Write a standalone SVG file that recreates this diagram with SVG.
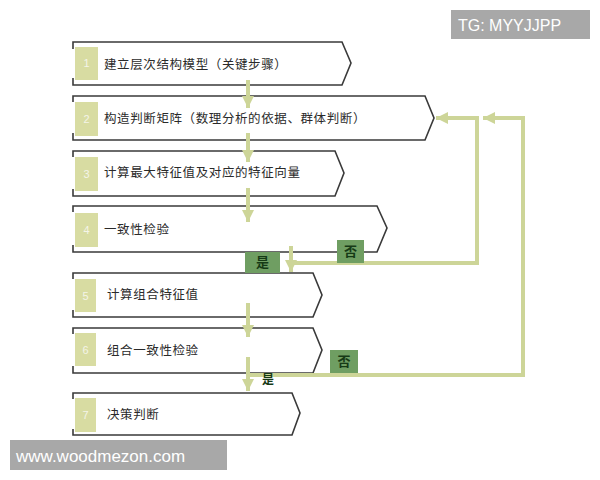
<svg xmlns="http://www.w3.org/2000/svg" width="600" height="480" viewBox="0 0 600 480">
<defs>
<marker id="ah" markerUnits="userSpaceOnUse" markerWidth="14" markerHeight="14" viewBox="0 0 14 14" refX="12" refY="7" orient="auto">
<path d="M0,1 L12,7 L0,13 Z" fill="#cdd598"/>
</marker>
<style>
.box{fill:#fff;stroke:#3a3a3a;stroke-width:1.6;stroke-linejoin:miter}
.num{fill:#d8dca2}
.nt{font-family:"Liberation Sans",sans-serif;font-size:11px;fill:#f4f4e8;text-anchor:middle}
.t{font-family:"Noto Sans CJK SC","Noto Sans",sans-serif;font-size:12.5px;fill:#2a2a2a;letter-spacing:0.6px}
.ln{fill:none;stroke:#cdd598;stroke-width:4}
.lb{fill:#6f9e62}
.lt{font-family:"Noto Sans CJK SC",sans-serif;font-size:13px;fill:#163a16;text-anchor:middle;font-weight:bold}
.wm{fill:#a8a8a8}
.wt{font-family:"Liberation Sans",sans-serif;fill:#fff}
</style>
</defs>
<rect width="600" height="480" fill="#fff"/>

<g id="node1">
<path class="box" d="M73,49 V42 H342 L351,63 L342,85 H73 V78"/>
<rect class="num" x="75" y="47" width="23" height="33"/>
<text class="nt" x="86.5" y="67">1</text>
<text class="t" x="104" y="69">建立层次结构模型（关键步骤）</text>
</g>
<g id="node2">
<path class="box" d="M73,102 V96 H425 L434,118 L425,140 H73 V133"/>
<rect class="num" x="75" y="102" width="23" height="34"/>
<text class="nt" x="86.5" y="123">2</text>
<text class="t" x="104" y="123">构造判断矩阵（数理分析的依据、群体判断）</text>
</g>
<g id="node3">
<path class="box" d="M73,157 V151 H335 L344,173 L335,196 H73 V189"/>
<rect class="num" x="75" y="157" width="23" height="34"/>
<text class="nt" x="86.5" y="178">3</text>
<text class="t" x="104" y="177">计算最大特征值及对应的特征向量</text>
</g>
<g id="node4">
<path class="box" d="M73,212 V206 H377 L387,228 L377,252 H73 V245"/>
<rect class="num" x="75" y="213" width="23" height="34"/>
<text class="nt" x="86.5" y="234">4</text>
<text class="t" x="104" y="234">一致性检验</text>
</g>
<g id="node5">
<path class="box" d="M73,279 V273 H313 L322,295 L313,317 H73 V310"/>
<rect class="num" x="75" y="279" width="21" height="33"/>
<text class="nt" x="85.5" y="300">5</text>
<text class="t" x="107" y="299">计算组合特征值</text>
</g>
<g id="node6">
<path class="box" d="M73,334 V328 H313 L322,350 L313,373 H73 V366"/>
<rect class="num" x="75" y="333" width="21" height="33"/>
<text class="nt" x="85.5" y="354">6</text>
<text class="t" x="107" y="355">组合一致性检验</text>
</g>
<g id="node7">
<path class="box" d="M73,399 V393 H292 L300,413 L292,435 H73 V429"/>
<rect class="num" x="75" y="398" width="21" height="34"/>
<text class="nt" x="85.5" y="419">7</text>
<text class="t" x="107" y="419">决策判断</text>
</g>

<g id="connectors">
<line class="ln" x1="248" y1="80" x2="248" y2="108" marker-end="url(#ah)"/>
<line class="ln" x1="248" y1="133" x2="248" y2="162" marker-end="url(#ah)"/>
<line class="ln" x1="248" y1="188" x2="248" y2="222" marker-end="url(#ah)"/>
<line class="ln" x1="291" y1="246" x2="291" y2="272" marker-end="url(#ah)"/>
<line class="ln" x1="248" y1="303" x2="248" y2="337" marker-end="url(#ah)"/>
<line class="ln" x1="248" y1="357" x2="248" y2="391" marker-end="url(#ah)"/>
<polyline class="ln" points="291,263 477,263 477,118 436,118" marker-end="url(#ah)"/>
<polyline class="ln" points="250,375 523,375 523,118 483,118" marker-end="url(#ah)"/>
</g>

<g id="label-yes1">
<rect class="lb" x="245" y="252" width="35" height="21"/>
<text class="lt" x="262.5" y="267">是</text>
</g>
<g id="label-no1">
<rect class="lb" x="337" y="240" width="27" height="23"/>
<text class="lt" x="350.5" y="256">否</text>
</g>
<g id="label-no2">
<rect class="lb" x="330" y="350" width="28" height="23"/>
<text class="lt" x="344" y="366">否</text>
</g>
<g id="label-yes2">
<text class="lt" x="268" y="384" style="font-size:12px">是</text>
</g>

<g id="watermark1">
<rect class="wm" x="451" y="10" width="139" height="29"/>
<text class="wt" x="458" y="31" font-size="16">TG: MYYJJPP</text>
</g>
<g id="watermark2">
<rect class="wm" x="10" y="440" width="217" height="30"/>
<text class="wt" x="16" y="462" font-size="17">www.woodmezon.com</text>
</g>
</svg>
